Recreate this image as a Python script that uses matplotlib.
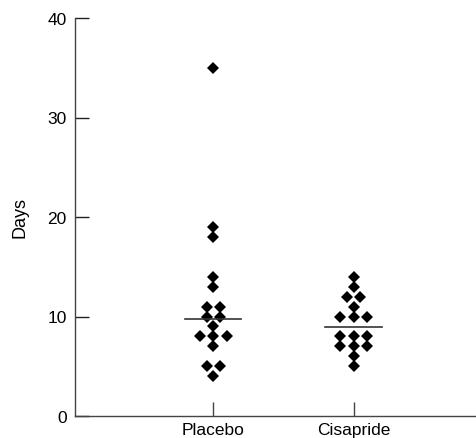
import numpy as np
import matplotlib
matplotlib.use('Agg')
import matplotlib.pyplot as plt

plt.rcParams['font.family'] = ['Liberation Sans', 'DejaVu Sans']

groups = ["Placebo", "Cisapride"]
placebo_days = [35, 19, 18, 14, 13, 11, 11, 10, 10, 9, 8, 8, 8, 7, 5, 5, 4]
cisapride_days = [14, 13, 12, 12, 11, 10, 10, 10, 8, 8, 8, 7, 7, 7, 6, 5]
central_lines = [9.7, 8.9]


def row_offsets(values, step=0.095):
    # spread tied values side by side, like a dot plot
    vals = np.asarray(values, dtype=float)
    offs = np.zeros(len(vals))
    for v in np.unique(vals):
        idx = np.where(vals == v)[0]
        n = len(idx)
        offs[idx] = (np.arange(n) - (n - 1) / 2) * step
    return offs


fig = plt.figure(figsize=(4.77, 4.39), dpi=100)
ax = fig.add_axes([75 / 477, 22 / 439, 1 - 75 / 477, (417 - 19) / 439])

for i, data in enumerate([placebo_days, cisapride_days]):
    x = i + 1 + row_offsets(data)
    ax.plot(x, data, linestyle='none', marker='D', markersize=6.5,
            color='black', markeredgewidth=0)
    ax.plot([i + 1 - 0.2, i + 1 + 0.2], [central_lines[i]] * 2,
            color='#333333', linewidth=1.2)

ax.set_xlim(0.015, 2.88)
ax.set_ylim(0, 40)
ax.set_yticks([0, 10, 20, 30, 40])
ax.set_xticks([1, 2])
ax.set_xticklabels(groups)

for s in ['top', 'right']:
    ax.spines[s].set_visible(False)
for s in ['left', 'bottom']:
    ax.spines[s].set_color('#444444')
    ax.spines[s].set_linewidth(1.0)

ax.tick_params(axis='y', direction='in', length=10, width=1, color='#222222',
               labelsize=12.5, pad=6)
ax.tick_params(axis='x', direction='in', length=10, width=1, color='#444444',
               labelsize=12.5, pad=4)

ax.set_ylabel("Days", fontsize=13)
ax.yaxis.set_label_coords(-0.115, 0.5)

fig.savefig("out.png", dpi=100)
